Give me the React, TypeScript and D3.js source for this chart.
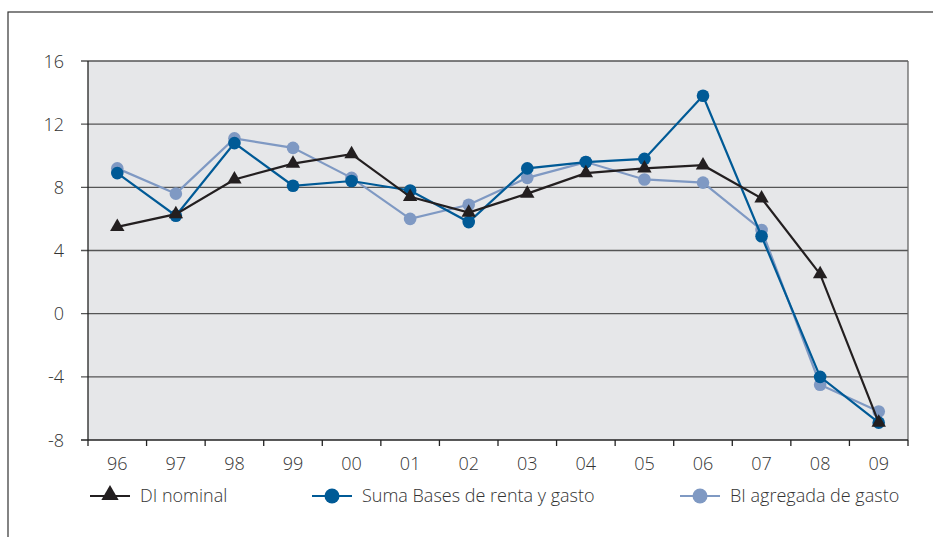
import React, { useRef, useEffect } from 'react';
import * as d3 from 'd3';

const years = ['96', '97', '98', '99', '00', '01', '02', '03', '04', '05', '06', '07', '08', '09'];
const diNominal = [5.5, 6.3, 8.5, 9.5, 10.1, 7.4, 6.4, 7.6, 8.9, 9.2, 9.4, 7.3, 2.5, -6.9];
const sumaBases = [8.9, 6.2, 10.8, 8.1, 8.4, 7.8, 5.8, 9.2, 9.6, 9.8, 13.8, 4.9, -4.0, -6.9];
const biAgregada = [9.2, 7.6, 11.1, 10.5, 8.6, 6.0, 6.9, 8.6, 9.6, 8.5, 8.3, 5.3, -4.5, -6.2];
const yTicks = [-8, -4, 0, 4, 8, 12, 16];

const series = [
  { name: 'DI nominal', values: diNominal, color: '#231f20', marker: 'triangle', legendX: 90 },
  { name: 'Suma Bases de renta y gasto', values: sumaBases, color: '#005a96', marker: 'circle', legendX: 312 },
  { name: 'BI agregada de gasto', values: biAgregada, color: '#7f99c3', marker: 'circle', legendX: 680 },
];

const FONT = '"Open Sans", Lato, sans-serif';
const FS = 18;

export default function App() {
  const ref = useRef<SVGSVGElement>(null);

  useEffect(() => {
    if (!ref.current) return;
    drawChart(ref.current);
  }, []);

  return (
    <svg ref={ref} width={933} height={537} style={{ position: 'absolute', left: 0, top: 0 }} />
  );
}

function drawChart(el: SVGSVGElement) {
  const left = 88, right = 908, top = 61, bottom = 440;
  const svg = d3.select(el);
  svg.selectAll('*').remove();

  // outer frame
  svg.append('rect')
    .attr('x', 8).attr('y', 12).attr('width', 940).attr('height', 540)
    .attr('fill', '#fff').attr('stroke', '#333').attr('stroke-width', 1.2);

  const x = d3.scaleBand().domain(years).range([left, right]);
  const y = d3.scaleLinear().domain([-8, 16]).range([bottom, top]);

  svg.append('rect')
    .attr('x', left).attr('y', top).attr('width', right - left).attr('height', bottom - top)
    .attr('fill', '#e6e7e9');

  // grid lines
  svg.append('g').selectAll('line')
    .data(yTicks.filter((t) => t !== -8))
    .enter().append('line')
    .attr('x1', left - 7).attr('x2', right)
    .attr('y1', (d) => y(d)).attr('y2', (d) => y(d))
    .attr('stroke', '#555').attr('stroke-width', 1.3);

  // right border
  svg.append('line')
    .attr('x1', right).attr('x2', right).attr('y1', top).attr('y2', bottom)
    .attr('stroke', '#666').attr('stroke-width', 1.3);

  // axes
  svg.append('line')
    .attr('x1', left).attr('x2', left).attr('y1', top).attr('y2', bottom)
    .attr('stroke', '#222').attr('stroke-width', 1.3);
  svg.append('line')
    .attr('x1', left - 7).attr('x2', right).attr('y1', bottom).attr('y2', bottom)
    .attr('stroke', '#222').attr('stroke-width', 1.3);

  svg.append('g').selectAll('text')
    .data(yTicks)
    .enter().append('text')
    .attr('x', 64).attr('y', (d) => y(d) + 6.5)
    .attr('text-anchor', 'end')
    .attr('font-family', FONT).attr('font-weight', 300).attr('font-size', FS).attr('fill', '#333')
    .text((d) => String(d));

  // x ticks at band edges
  const edges = years.map((d) => x(d)!).concat([right]);
  svg.append('g').selectAll('line')
    .data(edges)
    .enter().append('line')
    .attr('x1', (d) => d).attr('x2', (d) => d)
    .attr('y1', bottom).attr('y2', bottom + 6)
    .attr('stroke', '#222').attr('stroke-width', 1.3);

  svg.append('g').selectAll('text')
    .data(years)
    .enter().append('text')
    .attr('x', (d) => x(d)! + x.bandwidth() / 2)
    .attr('y', 470)
    .attr('text-anchor', 'middle')
    .attr('font-family', FONT).attr('font-weight', 300).attr('font-size', FS).attr('fill', '#333')
    .text((d) => d);

  const cx = (i: number) => x(years[i])! + x.bandwidth() / 2;
  const line = d3.line<number>().x((_, i) => cx(i)).y((d) => y(d));
  const tri = d3.symbol().type(d3.symbolTriangle).size(90);

  // draw in order: BI (back), Suma, DI
  [series[2], series[1], series[0]].forEach((s) => {
    const g = svg.append('g');
    g.append('path')
      .attr('d', line(s.values)!)
      .attr('fill', 'none').attr('stroke', s.color).attr('stroke-width', 2.2);
    if (s.marker === 'circle') {
      g.selectAll('circle').data(s.values).enter().append('circle')
        .attr('cx', (_, i) => cx(i)).attr('cy', (d) => y(d)).attr('r', 6.3)
        .attr('fill', s.color);
    } else {
      g.selectAll('path.m').data(s.values).enter().append('path')
        .attr('class', 'm')
        .attr('d', tri()!)
        .attr('transform', (d, i) => `translate(${cx(i)},${y(d)})`)
        .attr('fill', s.color);
    }
  });

  // legend
  const ly = 496;
  series.forEach((s) => {
    const g = svg.append('g');
    g.append('line')
      .attr('x1', s.legendX).attr('x2', s.legendX + 40).attr('y1', ly).attr('y2', ly)
      .attr('stroke', s.color).attr('stroke-width', 2.2);
    if (s.marker === 'circle') {
      g.append('circle').attr('cx', s.legendX + 20).attr('cy', ly).attr('r', 7.5).attr('fill', s.color);
    } else {
      g.append('path').attr('d', d3.symbol().type(d3.symbolTriangle).size(130)()!)
        .attr('transform', `translate(${s.legendX + 20},${ly - 1})`).attr('fill', s.color);
    }
    g.append('text')
      .attr('x', s.legendX + 50).attr('y', ly + 6)
      .attr('font-family', FONT).attr('font-weight', 300).attr('font-size', FS).attr('fill', '#333')
      .text(s.name);
  });
}
